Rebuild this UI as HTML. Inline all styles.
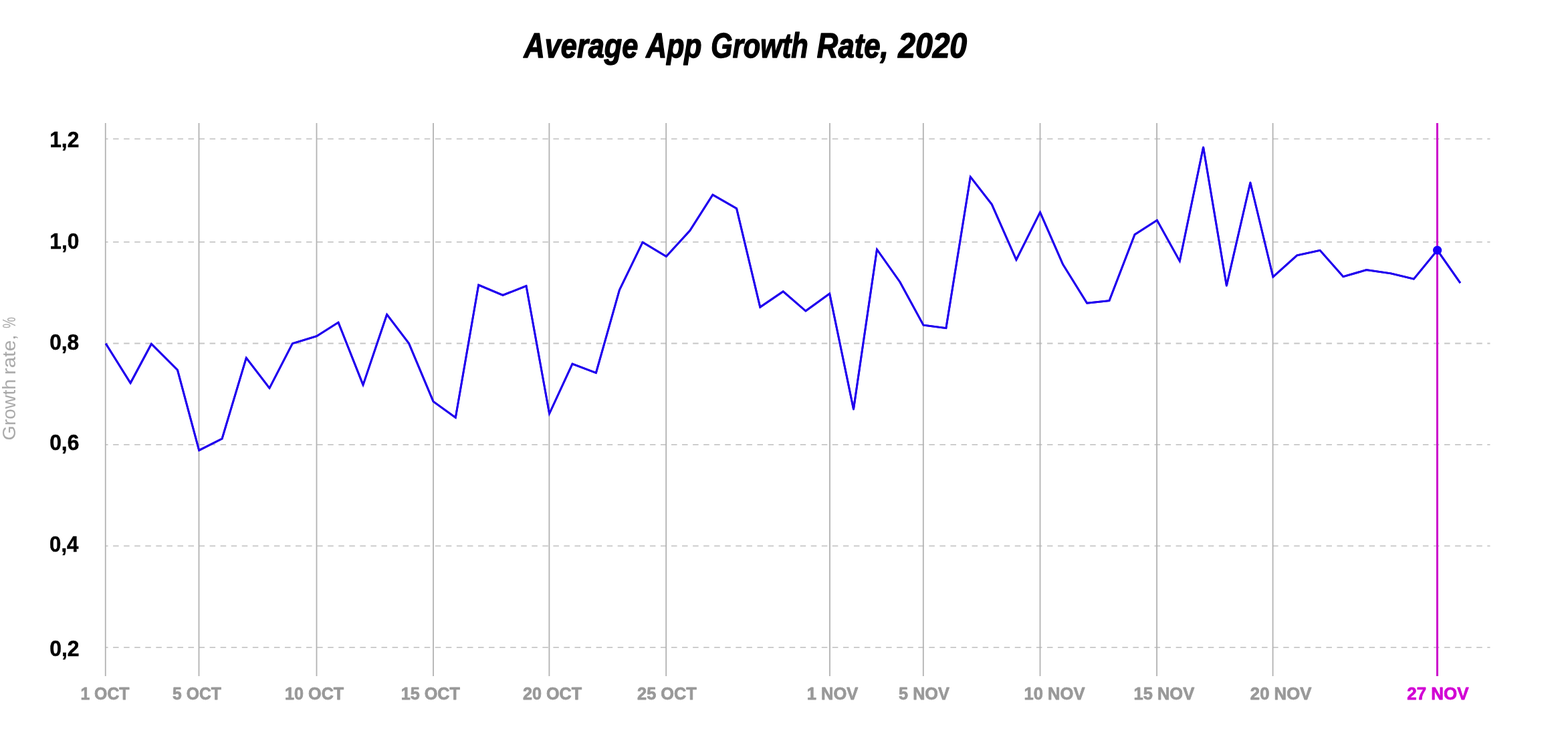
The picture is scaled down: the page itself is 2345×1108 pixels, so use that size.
<!DOCTYPE html>
<html lang="en">
<head>
<meta charset="utf-8">
<title>Average App Growth Rate, 2020</title>
<style>
html,body{margin:0;padding:0;background:#fff;}
body{width:2345px;height:1108px;overflow:hidden;}
svg{display:block;}
text{font-family:"Liberation Sans",sans-serif;}
.title{font-weight:bold;font-style:italic;font-size:50.9px;fill:#000;stroke:#000;stroke-width:1.5px;stroke-linejoin:round;}
.yl{font-weight:bold;font-size:32.4px;fill:#000;stroke:#000;stroke-width:0.5px;stroke-linejoin:round;}
.xl{font-weight:bold;font-size:26.3px;fill:#999999;stroke:#999999;stroke-width:0.8px;stroke-linejoin:round;}
.ax{font-size:28.4px;fill:#aaaaaa;}
</style>
</head>
<body>
<svg width="2345" height="1108" viewBox="0 0 2345 1108">
<rect width="2345" height="1108" fill="#ffffff"/>
<text class="title" y="86.35"><tspan x="783.55" textLength="170.77" lengthAdjust="spacingAndGlyphs">Average</tspan> <tspan x="966.31" textLength="83.17" lengthAdjust="spacingAndGlyphs">App</tspan> <tspan x="1063.37" textLength="145.38" lengthAdjust="spacingAndGlyphs">Growth</tspan> <tspan x="1221.85" textLength="106.89" lengthAdjust="spacingAndGlyphs">Rate,</tspan> <tspan x="1343.18" textLength="102.93" lengthAdjust="spacingAndGlyphs">2020</tspan></text>
<text class="ax" transform="translate(23.20 0) rotate(-90)"><tspan x="-658.45" textLength="91.48" lengthAdjust="spacingAndGlyphs">Growth</tspan> <tspan x="-560.36" textLength="60.03" lengthAdjust="spacingAndGlyphs">rate,</tspan> <tspan x="-491.05" textLength="16.96" lengthAdjust="spacingAndGlyphs">%</tspan></text>
<g stroke="#c6c6c6" stroke-width="1.8" stroke-dasharray="8.5 7.556" stroke-dashoffset="3.96" fill="none">
<line x1="157" y1="207.6" x2="2228.5" y2="207.6"/>
<line x1="157" y1="361.9" x2="2228.5" y2="361.9"/>
<line x1="157" y1="513.5" x2="2228.5" y2="513.5"/>
<line x1="157" y1="664.8" x2="2228.5" y2="664.8"/>
<line x1="157" y1="816.4" x2="2228.5" y2="816.4"/>
<line x1="157" y1="968.2" x2="2228.5" y2="968.2"/>
</g>
<g fill="#b2b2b2">
<rect x="156.85" y="184" width="1.8" height="827"/>
<rect x="296.60" y="184" width="1.8" height="827"/>
<rect x="472.60" y="184" width="1.8" height="827"/>
<rect x="647.10" y="184" width="1.8" height="827"/>
<rect x="820.50" y="184" width="1.8" height="827"/>
<rect x="995.30" y="184" width="1.8" height="827"/>
<rect x="1240.10" y="184" width="1.8" height="827"/>
<rect x="1379.90" y="184" width="1.8" height="827"/>
<rect x="1554.60" y="184" width="1.8" height="827"/>
<rect x="1729.20" y="184" width="1.8" height="827"/>
<rect x="1902.70" y="184" width="1.8" height="827"/>
</g>
<rect x="2148" y="184" width="3" height="827" fill="#cc00cc"/>
<g class="yl">
<text x="74.24" y="219.9" textLength="44.07" lengthAdjust="spacingAndGlyphs">1,2</text>
<text x="74.37" y="371.9" textLength="43.97" lengthAdjust="spacingAndGlyphs">1,0</text>
<text x="74.17" y="522.6" textLength="44.04" lengthAdjust="spacingAndGlyphs">0,8</text>
<text x="74.15" y="673.4" textLength="44.26" lengthAdjust="spacingAndGlyphs">0,6</text>
<text x="74.10" y="824.9" textLength="43.22" lengthAdjust="spacingAndGlyphs">0,4</text>
<text x="74.13" y="980.8" textLength="44.39" lengthAdjust="spacingAndGlyphs">0,2</text>
</g>
<g class="xl">
<text x="120.38" y="1045.6" textLength="73.16" lengthAdjust="spacingAndGlyphs">1 OCT</text>
<text x="258.09" y="1045.6" textLength="72.78" lengthAdjust="spacingAndGlyphs">5 OCT</text>
<text x="426.10" y="1045.6" textLength="88.15" lengthAdjust="spacingAndGlyphs">10 OCT</text>
<text x="599.70" y="1045.6" textLength="88.32" lengthAdjust="spacingAndGlyphs">15 OCT</text>
<text x="781.90" y="1045.6" textLength="88.12" lengthAdjust="spacingAndGlyphs">20 OCT</text>
<text x="953.12" y="1045.6" textLength="88.73" lengthAdjust="spacingAndGlyphs">25 OCT</text>
<text x="1206.76" y="1045.6" textLength="76.42" lengthAdjust="spacingAndGlyphs">1 NOV</text>
<text x="1344.10" y="1045.6" textLength="75.73" lengthAdjust="spacingAndGlyphs">5 NOV</text>
<text x="1531.61" y="1045.6" textLength="90.80" lengthAdjust="spacingAndGlyphs">10 NOV</text>
<text x="1695.44" y="1045.6" textLength="90.83" lengthAdjust="spacingAndGlyphs">15 NOV</text>
<text x="1869.85" y="1045.6" textLength="91.49" lengthAdjust="spacingAndGlyphs">20 NOV</text>
<text x="2104.25" y="1045.6" textLength="92.30" lengthAdjust="spacingAndGlyphs" fill="#d200d4" stroke="#d200d4">27 NOV</text>
</g>
<g fill="none" stroke="#2000ee">
<polyline stroke-width="2.9" stroke-linejoin="round" points="158.20,513.80 195.10,572.80 226.40,514.20 265.50,553.30 297.70,673.40 332.10,656.00 368.30,535.20 403.00,580.40 437.40,513.70 473.50,502.70 506.00,482.10 543.00,575.60 578.60,470.20 611.50,513.40 648.00,600.40 681.30,624.40 715.70,426.10 752.00,441.40 787.00,427.60 821.60,618.50 856.00,544.10 891.40,557.50 926.40,433.70 961.10,362.20 996.40,383.40 1031.80,344.80 1065.90,291.30 1101.60,311.80 1136.80,459.30 1171.30,435.80 1204.90,465.00 1240.70,439.10 1276.50,612.00 1311.50,373.00 1345.80,421.50 1381.00,486.10 1414.90,490.60 1451.30,264.40 1483.30,305.60 1519.90,388.50 1555.50,317.40 1589.40,394.90 1625.60,453.30 1659.00,449.60 1697.00,350.70 1730.40,329.40 1764.30,390.40 1799.60,220.10 1834.40,427.20 1869.90,273.00 1903.90,414.00 1939.70,381.90 1974.10,374.40 2008.90,413.70 2043.50,403.60 2080.10,408.90 2114.40,417.10 2149.60,374.20 2183.90,423.20"/>
<polyline stroke-width="2.9" stroke-linejoin="miter" stroke-miterlimit="4" points="158.20,513.80 195.10,572.80 226.40,514.20 265.50,553.30 297.70,673.40 332.10,656.00 368.30,535.20 403.00,580.40 437.40,513.70 473.50,502.70 506.00,482.10 543.00,575.60 578.60,470.20 611.50,513.40 648.00,600.40 681.30,624.40 715.70,426.10 752.00,441.40 787.00,427.60 821.60,618.50 856.00,544.10 891.40,557.50 926.40,433.70 961.10,362.20 996.40,383.40 1031.80,344.80 1065.90,291.30 1101.60,311.80 1136.80,459.30 1171.30,435.80 1204.90,465.00 1240.70,439.10 1276.50,612.00 1311.50,373.00 1345.80,421.50 1381.00,486.10 1414.90,490.60 1451.30,264.40 1483.30,305.60 1519.90,388.50 1555.50,317.40 1589.40,394.90 1625.60,453.30 1659.00,449.60 1697.00,350.70 1730.40,329.40 1764.30,390.40 1799.60,220.10 1834.40,427.20 1869.90,273.00 1903.90,414.00 1939.70,381.90 1974.10,374.40 2008.90,413.70 2043.50,403.60 2080.10,408.90 2114.40,417.10 2149.60,374.20 2183.90,423.20"/>
</g>
<circle cx="2149.6" cy="374.2" r="6.6" fill="#1a00ff"/>
</svg>
</body>
</html>
